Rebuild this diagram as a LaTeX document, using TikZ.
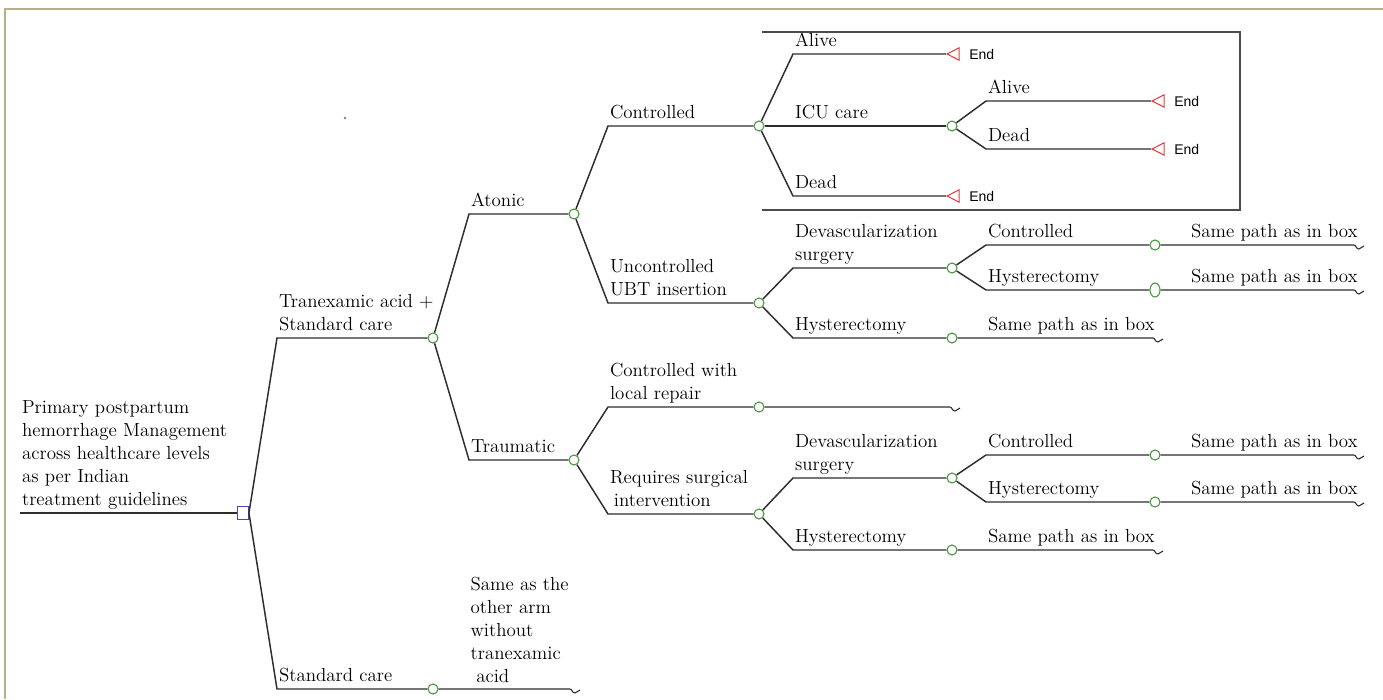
\documentclass[tikz,border=0pt]{standalone}
\usepackage{fontspec}
\usepackage{tikz}
\usepackage{xcolor}
\usetikzlibrary{shapes.geometric}
\usetikzlibrary{positioning}
\newfontfamily\endfont{Liberation Sans}
\definecolor{framecol}{RGB}{184,176,136}
\definecolor{chancegreen}{RGB}{70,150,60}
\definecolor{decblue}{RGB}{70,70,210}
\definecolor{termred}{RGB}{225,60,70}
\definecolor{branchgray}{RGB}{45,45,45}

\begin{document}
\begin{tikzpicture}[x=0.75pt,y=-0.75pt,
  branch/.style={draw=branchgray,line width=1.1pt},
  chance/.style={circle,draw=chancegreen,fill=white,line width=0.8pt,inner sep=0pt,minimum size=7.5pt},
  decision/.style={rectangle,draw=decblue,fill=white,line width=0.9pt,inner sep=0pt,minimum width=8pt,minimum height=9.5pt},
  term/.style={isosceles triangle,isosceles triangle apex angle=55,shape border rotate=180,draw=termred,fill=white,line width=0.8pt,inner sep=0pt,minimum height=9pt},
  lbl/.style={anchor=south west,align=left,inner xsep=1pt,inner ysep=5pt,text depth=0pt,font=\fontsize{14.2}{17.25}\selectfont},
  endlbl/.style={font=\endfont\fontsize{10.5}{12}\selectfont,inner sep=1pt},
  squig/.pic={\draw[branchgray,line width=0.8pt] (0,0) .. controls (2,0) and (2,4) .. (5,4) .. controls (7,4) and (8,1) .. (10,1);}
  ]
  \useasboundingbox (0,0) rectangle (1383,699);
  \draw[framecol,line width=1.4pt] (5,699) -- (5,9) -- (1383,9);
  \fill[gray] (345,118) circle (1pt);
  % box round the first outcome set
  \draw[branchgray!85,line width=0.8pt] (762,32) -- (1240,32) -- (1240,210) -- (762,210);

  % decision and chance nodes
  \coordinate (root) at (20,513);
  \node[decision] (dec) at (243,513) {};
  \node[chance] (tx) at (433,338) {};
  \node[chance] (sc) at (433,689) {};
  \node[chance] (at) at (574,214) {};
  \node[chance] (tr) at (574,460) {};
  \node[chance] (atc) at (759,126) {};
  \node[chance] (atu) at (759,303) {};
  \node[chance] (icu) at (952,126) {};
  \node[chance] (atdv) at (952,268) {};
  \node[chance] (athy) at (952,338) {};
  \node[chance] (atdvc) at (1155,245) {};
  \node[chance,ellipse,minimum width=7.5pt,minimum height=10.5pt] (atdvh) at (1155,290) {};
  \node[chance] (trlr) at (759,407) {};
  \node[chance] (trsi) at (759,514) {};
  \node[chance] (trdv) at (952,478) {};
  \node[chance] (trhy) at (952,550) {};
  \node[chance] (trdvc) at (1155,455) {};
  \node[chance] (trdvh) at (1155,502) {};

  % terminal nodes
  \node[term,anchor=apex] (alive1) at (946,54) {};
  \node[term,anchor=apex] (dead1) at (946,196) {};
  \node[term,anchor=apex] (alive2) at (1151,101) {};
  \node[term,anchor=apex] (dead2) at (1151,149) {};
  \node[endlbl,right=6pt of alive1] (ealive1) {End};
  \node[endlbl,right=6pt of dead1] (edead1) {End};
  \node[endlbl,right=6pt of alive2] (ealive2) {End};
  \node[endlbl,right=6pt of dead2] (edead2) {End};

  % branches
  \draw[branch] (root) node (lroot) [lbl] {Primary postpartum\\hemorrhage Management\\across healthcare levels\\as per Indian\\treatment guidelines} -- (dec);
  \draw[branch] (dec.east) -- (277,338) node (ltx) [lbl] {Tranexamic acid +\\Standard care} -- (tx);
  \draw[branch] (dec.east) -- (277,689) node (lsc) [lbl] {Standard care} -- (sc) -- (570,689) coordinate (scend);
  \node (lsame) [lbl] at (469,689) {Same as the\\other arm\\without\\tranexamic\\\hspace{0.3em}acid};

  \draw[branch] (tx) -- (469,214) node (lat) [lbl] {Atonic} -- (at);
  \draw[branch] (tx) -- (469,460) node (ltr) [lbl] {Traumatic} -- (tr);

  \draw[branch] (at) -- (608,126) node (latc) [lbl] {Controlled} -- (atc);
  \draw[branch] (at) -- (608,303) node (latu) [lbl] {Uncontrolled\\UBT insertion} -- (atu);
  \draw[branch] (atc) -- (793,54) node (lalive1) [lbl] {Alive} -- (alive1);
  \draw[branch] (atc) -- (793,126) node (licu) [lbl] {ICU care} -- (icu);
  \draw[branch] (atc) -- (793,196) node (ldead1) [lbl] {Dead} -- (dead1);
  \draw[branch] (icu) -- (986,101) node (lalive2) [lbl] {Alive} -- (alive2);
  \draw[branch] (icu) -- (986,149) node (ldead2) [lbl] {Dead} -- (dead2);

  \draw[branch] (atu) -- (793,268) node (latdv) [lbl] {Devascularization\\surgery} -- (atdv);
  \draw[branch] (atu) -- (793,338) node (lathy) [lbl] {Hysterectomy} -- (athy)
    -- (986,338) node (lathyp) [lbl] {Same path as in box} -- (1153,338) coordinate (athyend);
  \draw[branch] (atdv) -- (986,245) node (latdvc) [lbl] {Controlled} -- (atdvc)
    -- (1189,245) node (latdvcp) [lbl] {Same path as in box} -- (1354,245) coordinate (atdvcend);
  \draw[branch] (atdv) -- (986,290) node (latdvh) [lbl] {Hysterectomy} -- (atdvh)
    -- (1189,290) node (latdvhp) [lbl] {Same path as in box} -- (1354,290) coordinate (atdvhend);

  \draw[branch] (tr) -- (608,407) node (ltrlr) [lbl] {Controlled with\\local repair} -- (trlr)
    -- (950,407) coordinate (trlrend);
  \draw[branch] (tr) -- (608,514) node (ltrsi) [lbl] {Requires surgical\\\hspace{0.2em}intervention} -- (trsi);
  \draw[branch] (trsi) -- (793,478) node (ltrdv) [lbl] {Devascularization\\surgery} -- (trdv);
  \draw[branch] (trsi) -- (793,550) node (ltrhy) [lbl] {Hysterectomy} -- (trhy)
    -- (986,550) node (ltrhyp) [lbl] {Same path as in box} -- (1153,550) coordinate (trhyend);
  \draw[branch] (trdv) -- (986,455) node (ltrdvc) [lbl] {Controlled} -- (trdvc)
    -- (1189,455) node (ltrdvcp) [lbl] {Same path as in box} -- (1354,455) coordinate (trdvcend);
  \draw[branch] (trdv) -- (986,502) node (ltrdvh) [lbl] {Hysterectomy} -- (trdvh)
    -- (1189,502) node (ltrdvhp) [lbl] {Same path as in box} -- (1354,502) coordinate (trdvhend);

  % open ends
  \foreach \e in {scend,athyend,atdvcend,atdvhend,trlrend,trhyend,trdvcend,trdvhend}
    \pic at (\e) {squig};
\end{tikzpicture}
\end{document}
